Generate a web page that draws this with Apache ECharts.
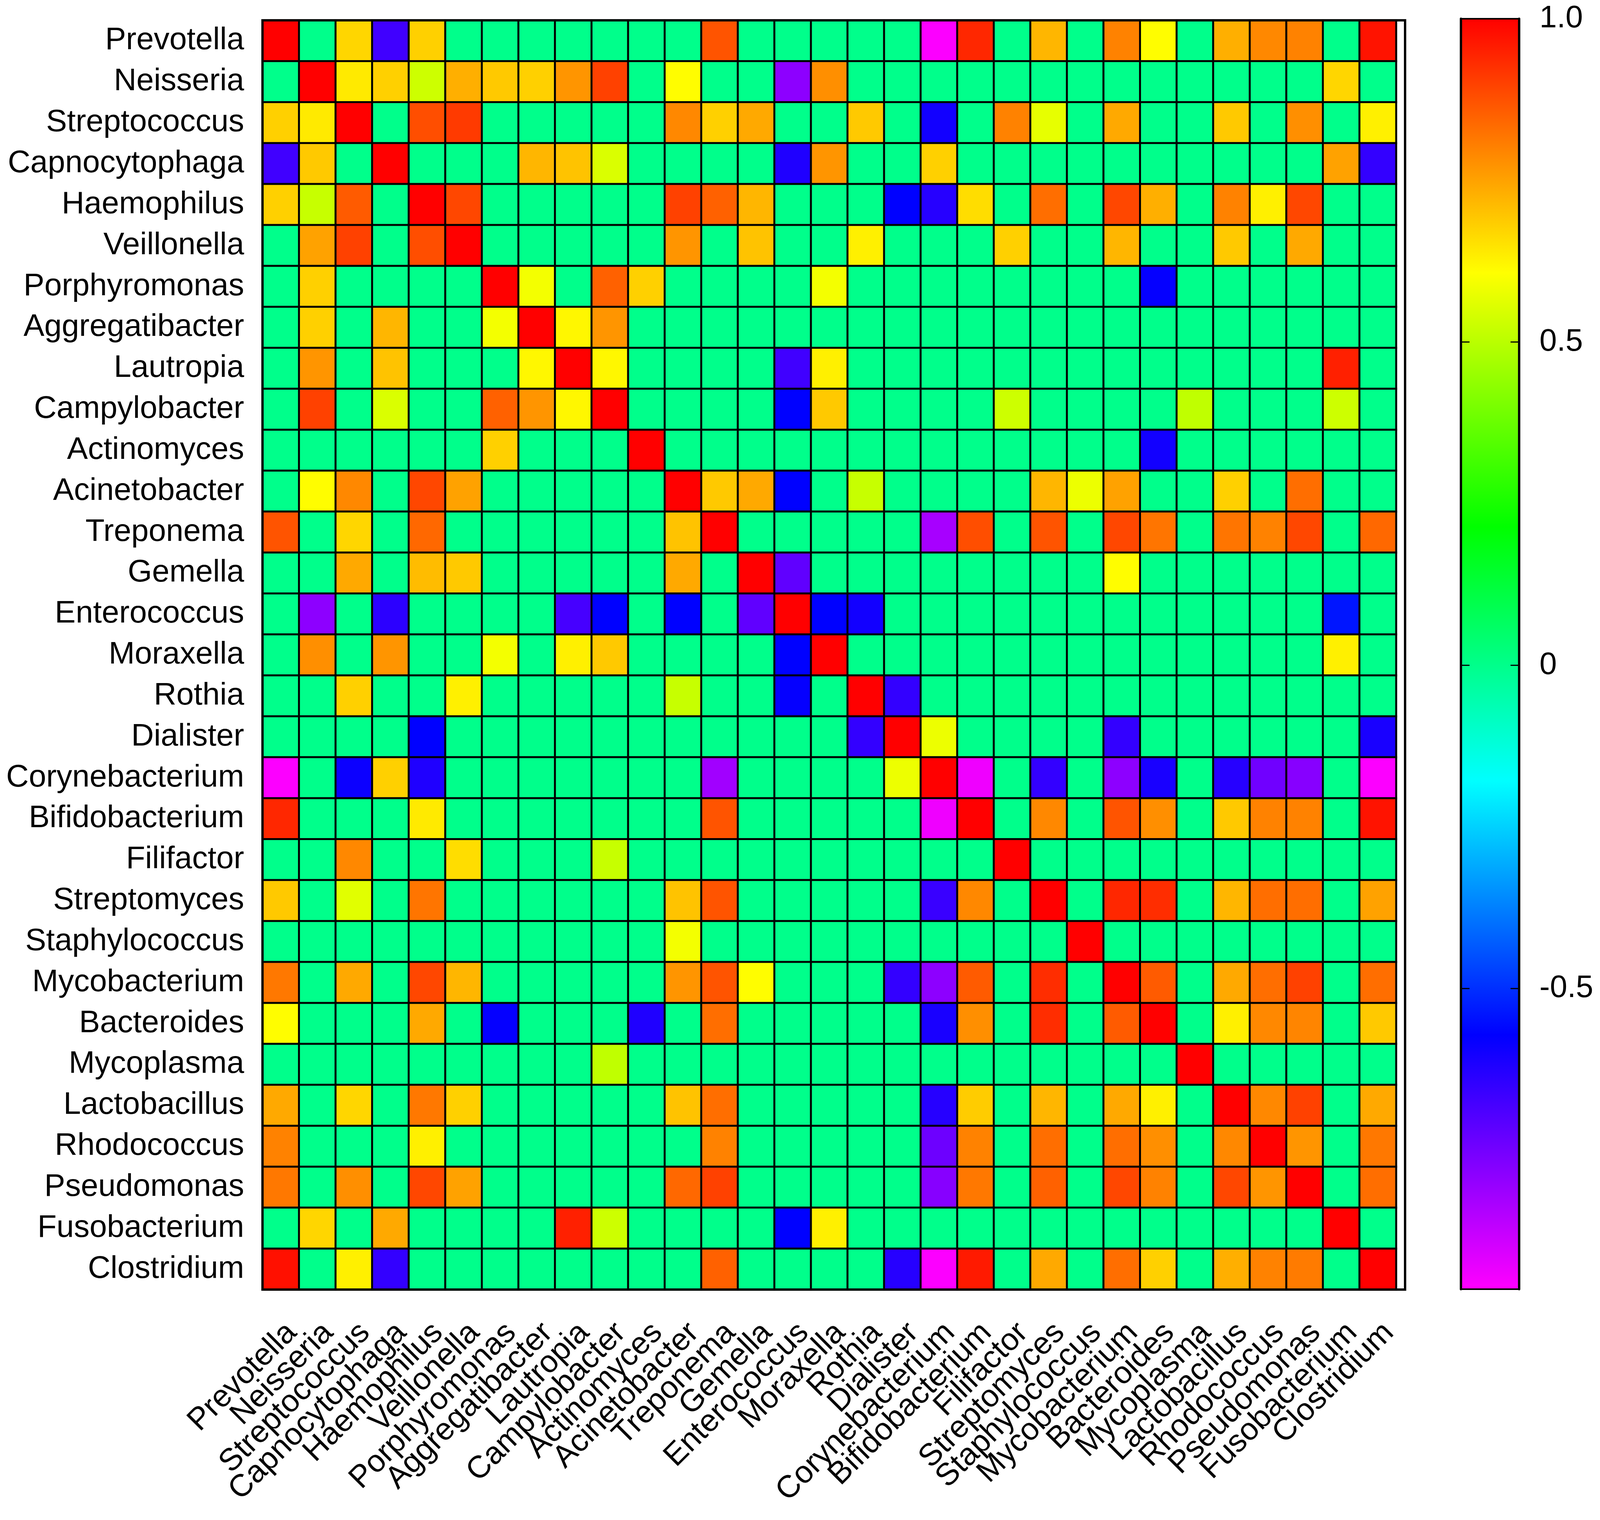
<!DOCTYPE html>
<html>
<head>
<meta charset="utf-8">
<title>Genus correlation heatmap</title>
<script src="https://cdn.jsdelivr.net/npm/echarts@6/dist/echarts.min.js"></script>
<style>
  html, body { margin: 0; padding: 0; background: #fff; overflow: hidden; }
  #chart { width: 100vw; height: 100vh; }
</style>
</head>
<body>
<div id="chart"></div>
<script>
// genera, same order on both axes
var taxa = ['Prevotella', 'Neisseria', 'Streptococcus', 'Capnocytophaga', 'Haemophilus',
  'Veillonella', 'Porphyromonas', 'Aggregatibacter', 'Lautropia', 'Campylobacter',
  'Actinomyces', 'Acinetobacter', 'Treponema', 'Gemella', 'Enterococcus',
  'Moraxella', 'Rothia', 'Dialister', 'Corynebacterium', 'Bifidobacterium',
  'Filifactor', 'Streptomyces', 'Staphylococcus', 'Mycobacterium', 'Bacteroides',
  'Mycoplasma', 'Lactobacillus', 'Rhodococcus', 'Pseudomonas', 'Fusobacterium',
  'Clostridium'];

// correlation rows, one row per genus
var corr = [
  [1, 0, 0.67, -0.67, 0.68,  0, 0, 0, 0, 0,  0, 0, 0.87, 0, 0,  0, 0, 0, -0.96, 0.94,  0, 0.72, 0, 0.80, 0.61,  0, 0.73, 0.79, 0.80, 0,  0.97],
  [0, 1, 0.64, 0.68, 0.53,  0.73, 0.69, 0.68, 0.77, 0.90,  0, 0.61, 0, 0, -0.79,  0.78, 0, 0, 0, 0,  0, 0, 0, 0, 0,  0, 0, 0, 0, 0.67,  0],
  [0.68, 0.64, 1, 0, 0.88,  0.91, 0, 0, 0, 0,  0, 0.79, 0.68, 0.74, 0,  0, 0.69, 0, -0.60, 0,  0.80, 0.57, 0, 0.74, 0,  0, 0.69, 0, 0.78, 0,  0.63],
  [-0.67, 0.69, 0, 1, 0,  0, 0, 0.72, 0.70, 0.55,  0, 0, 0, 0, -0.62,  0.77, 0, 0, 0.68, 0,  0, 0, 0, 0, 0,  0, 0, 0, 0, 0.75,  -0.65],
  [0.68, 0.52, 0.86, 0, 1,  0.89, 0, 0, 0, 0,  0, 0.90, 0.85, 0.72, 0,  0, 0, -0.57, -0.63, 0.66,  0, 0.83, 0, 0.89, 0.73,  0, 0.80, 0.63, 0.89, 0,  0],
  [0, 0.75, 0.90, 0, 0.88,  1, 0, 0, 0, 0,  0, 0.77, 0, 0.70, 0,  0, 0.63, 0, 0, 0,  0.68, 0, 0, 0.72, 0,  0, 0.69, 0, 0.74, 0,  0],
  [0, 0.68, 0, 0, 0,  0, 1, 0.59, 0, 0.85,  0.68, 0, 0, 0, 0,  0.59, 0, 0, 0, 0,  0, 0, 0, 0, -0.58,  0, 0, 0, 0, 0,  0],
  [0, 0.68, 0, 0.72, 0,  0, 0.59, 1, 0.62, 0.77,  0, 0, 0, 0, 0,  0, 0, 0, 0, 0,  0, 0, 0, 0, 0,  0, 0, 0, 0, 0,  0],
  [0, 0.77, 0, 0.70, 0,  0, 0, 0.62, 1, 0.62,  0, 0, 0, 0, -0.67,  0.63, 0, 0, 0, 0,  0, 0, 0, 0, 0,  0, 0, 0, 0, 0.95,  0],
  [0, 0.90, 0, 0.55, 0,  0, 0.85, 0.77, 0.62, 1,  0, 0, 0, 0, -0.57,  0.69, 0, 0, 0, 0,  0.53, 0, 0, 0, 0,  0.51, 0, 0, 0, 0.53,  0],
  [0, 0, 0, 0, 0,  0, 0.68, 0, 0, 0,  1, 0, 0, 0, 0,  0, 0, 0, 0, 0,  0, 0, 0, 0, -0.60,  0, 0, 0, 0, 0,  0],
  [0, 0.61, 0.79, 0, 0.89,  0.75, 0, 0, 0, 0,  0, 1, 0.69, 0.74, -0.57,  0, 0.52, 0, 0, 0,  0, 0.72, 0.58, 0.75, 0,  0, 0.68, 0, 0.83, 0,  0],
  [0.87, 0, 0.67, 0, 0.84,  0, 0, 0, 0, 0,  0, 0.70, 1, 0, 0,  0, 0, 0, -0.83, 0.88,  0, 0.87, 0, 0.89, 0.82,  0, 0.82, 0.80, 0.89, 0,  0.84],
  [0, 0, 0.74, 0, 0.71,  0.69, 0, 0, 0, 0,  0, 0.74, 0, 1, -0.72,  0, 0, 0, 0, 0,  0, 0, 0, 0.61, 0,  0, 0, 0, 0, 0,  0],
  [0, -0.79, 0, -0.64, 0,  0, 0, 0, -0.68, -0.57,  0, -0.57, 0, -0.72, 1,  -0.57, -0.60, 0, 0, 0,  0, 0, 0, 0, 0,  0, 0, 0, 0, -0.54,  0],
  [0, 0.78, 0, 0.77, 0,  0, 0.59, 0, 0.63, 0.69,  0, 0, 0, 0, -0.57,  1, 0, 0, 0, 0,  0, 0, 0, 0, 0,  0, 0, 0, 0, 0.63,  0],
  [0, 0, 0.68, 0, 0,  0.63, 0, 0, 0, 0,  0, 0.52, 0, 0, -0.58,  0, 1, -0.65, 0, 0,  0, 0, 0, 0, 0,  0, 0, 0, 0, 0,  0],
  [0, 0, 0, 0, -0.57,  0, 0, 0, 0, 0,  0, 0, 0, 0, 0,  0, -0.65, 1, 0.58, 0,  0, 0, 0, -0.65, 0,  0, 0, 0, 0, 0,  -0.61],
  [-0.96, 0, -0.59, 0.68, -0.62,  0, 0, 0, 0, 0,  0, 0, -0.82, 0, 0,  0, 0, 0.58, 1, -0.94,  0, -0.65, 0, -0.79, -0.61,  0, -0.63, -0.745, -0.78, 0,  -0.96],
  [0.94, 0, 0, 0, 0.64,  0, 0, 0, 0, 0,  0, 0, 0.87, 0, 0,  0, 0, 0, -0.94, 1,  0, 0.79, 0, 0.87, 0.78,  0, 0.69, 0.80, 0.80, 0,  0.97],
  [0, 0, 0.79, 0, 0,  0.66, 0, 0, 0, 0.52,  0, 0, 0, 0, 0,  0, 0, 0, 0, 0,  1, 0, 0, 0, 0,  0, 0, 0, 0, 0,  0],
  [0.69, 0, 0.56, 0, 0.82,  0, 0, 0, 0, 0,  0, 0.70, 0.87, 0, 0,  0, 0, 0, -0.66, 0.79,  0, 1, 0, 0.94, 0.93,  0, 0.72, 0.83, 0.83, 0,  0.75],
  [0, 0, 0, 0, 0,  0, 0, 0, 0, 0,  0, 0.59, 0, 0, 0,  0, 0, 0, 0, 0,  0, 0, 1, 0, 0,  0, 0, 0, 0, 0,  0],
  [0.815, 0, 0.74, 0, 0.89,  0.72, 0, 0, 0, 0,  0, 0.77, 0.87, 0.61, 0,  0, 0, -0.65, -0.79, 0.86,  0, 0.93, 0, 1, 0.86,  0, 0.74, 0.83, 0.90, 0,  0.83],
  [0.61, 0, 0, 0, 0.74,  0, -0.58, 0, 0, 0,  -0.62, 0, 0.83, 0, 0,  0, 0, 0, -0.61, 0.78,  0, 0.93, 0, 0.86, 1,  0, 0.63, 0.79, 0.795, 0,  0.69],
  [0, 0, 0, 0, 0,  0, 0, 0, 0, 0.51,  0, 0, 0, 0, 0,  0, 0, 0, 0, 0,  0, 0, 0, 0, 0,  1, 0, 0, 0, 0,  0],
  [0.74, 0, 0.67, 0, 0.815,  0.68, 0, 0, 0, 0,  0, 0.70, 0.83, 0, 0,  0, 0, 0, -0.63, 0.685,  0, 0.72, 0, 0.74, 0.63,  0, 1, 0.79, 0.90, 0,  0.74],
  [0.80, 0, 0, 0, 0.63,  0, 0, 0, 0, 0,  0, 0, 0.80, 0, 0,  0, 0, 0, -0.74, 0.80,  0, 0.83, 0, 0.83, 0.78,  0, 0.79, 1, 0.77, 0,  0.815],
  [0.815, 0, 0.78, 0, 0.89,  0.75, 0, 0, 0, 0,  0, 0.84, 0.90, 0, 0,  0, 0, 0, -0.78, 0.815,  0, 0.85, 0, 0.89, 0.80,  0, 0.89, 0.77, 1, 0,  0.83],
  [0, 0.67, 0, 0.74, 0,  0, 0, 0, 0.95, 0.53,  0, 0, 0, 0, -0.57,  0.63, 0, 0, 0, 0,  0, 0, 0, 0, 0,  0, 0, 0, 0, 1,  0],
  [0.975, 0, 0.63, -0.65, 0,  0, 0, 0, 0, 0,  0, 0, 0.85, 0, 0,  0, 0, -0.63, -0.96, 0.96,  0, 0.74, 0, 0.83, 0.68,  0, 0.73, 0.80, 0.81, 0,  1]
];

// colour scale range and the values labelled on the bar
var scaleMin = -0.965;
var scaleMax = 1;
var barTicks = [-0.5, 0, 0.5, 1];
var barMinorTicks = [-0.5, 0, 0.5];
var rainbow = ['#ff00ff', '#0000ff', '#00ffff', '#00ff00', '#ffff00', '#ff0000'];

var cells = [];
for (var r = 0; r < corr.length; r++) {
  for (var c = 0; c < corr[r].length; c++) {
    cells.push([c, r, corr[r][c]]);
  }
}
var barTickData = barMinorTicks.map(function (v) { return [0, v]; });

// layout was measured on a 4550 x 3892 picture, scale it to the real window
var el = document.getElementById('chart');
var W = el.clientWidth || 4550;
var H = el.clientHeight || 3892;
var sx = W / 4550, sy = H / 3892;
function X(v) { return Math.round(v * sx); }
function Y(v) { return Math.round(v * sy); }
var fs = Math.round(86 * Math.min(1, (sx + sy) / 2) * 0.985);

var font = "'Liberation Sans', Arial, Helvetica, sans-serif";
var chart = echarts.init(el, null, { renderer: 'canvas' });

// colour bar: same stops as the visualMap, top = max
var barStops = rainbow.slice().reverse().map(function (col, i, arr) {
  return { offset: i / (arr.length - 1), color: col };
});
function renderBar(params, api) {
  var p0 = api.coord([0, scaleMax]);
  var p1 = api.coord([1, scaleMin]);
  return {
    type: 'rect',
    shape: { x: p0[0], y: p0[1], width: p1[0] - p0[0], height: p1[1] - p0[1] },
    style: { fill: new echarts.graphic.LinearGradient(0, 0, 0, 1, barStops) }
  };
}

// short black stubs on both inner sides of the colour bar
function renderBarTick(params, api) {
  var v = api.value(1);
  var a = api.coord([0, v]);
  var b = api.coord([1, v]);
  var len = X(24);
  var st = { stroke: '#000', lineWidth: 3 };
  return {
    type: 'group',
    children: [
      { type: 'line', shape: { x1: a[0], y1: a[1], x2: a[0] + len, y2: a[1] }, style: st },
      { type: 'line', shape: { x1: b[0] - len, y1: b[1], x2: b[0], y2: b[1] }, style: st }
    ]
  };
}

var option = {
  backgroundColor: '#fff',
  animation: false,
  textStyle: { fontFamily: font },
  grid: [
    { left: X(746), top: Y(52), width: X(3224), height: Y(3250) },
    { left: X(746), top: Y(52), width: X(3249), height: Y(3250), show: true, z: 10,
      borderColor: '#000', borderWidth: 6, backgroundColor: 'transparent' },
    { left: X(4155), top: Y(48), width: X(165), height: Y(3253), show: true, z: 10,
      borderColor: '#000', borderWidth: 4, backgroundColor: 'transparent' }
  ],
  xAxis: [
    {
      type: 'category', gridIndex: 0, data: taxa, position: 'bottom',
      axisLine: { lineStyle: { color: '#000', width: 6 } },
      axisTick: { alignWithLabel: true, length: Y(33), lineStyle: { color: '#000', width: 5 } },
      axisLabel: {
        interval: 0, rotate: 45, margin: Y(70), color: '#000',
        fontSize: fs, fontFamily: font, verticalAlign: 'top', lineHeight: fs
      },
      splitLine: { show: false }
    },
    { type: 'value', gridIndex: 1, show: false },
    { type: 'value', gridIndex: 2, show: false, min: 0, max: 1 }
  ],
  yAxis: [
    {
      type: 'category', gridIndex: 0, data: taxa, inverse: true,
      axisLine: { lineStyle: { color: '#000', width: 6 } },
      axisTick: { alignWithLabel: true, length: X(33), lineStyle: { color: '#000', width: 5 } },
      axisLabel: { interval: 0, margin: X(52), color: '#000', fontSize: fs, fontFamily: font },
      splitLine: { show: false }
    },
    { type: 'value', gridIndex: 1, show: false },
    {
      type: 'value', gridIndex: 2, position: 'right', min: scaleMin, max: scaleMax, z: 10,
      axisLine: { show: true, onZero: false, lineStyle: { color: '#000', width: 6 } },
      axisTick: { show: false },
      axisLabel: {
        customValues: barTicks, margin: X(58), color: '#000', fontSize: fs, fontFamily: font,
        formatter: function (v) { return v === 1 ? '1.0' : String(v); }
      },
      splitLine: { show: false }
    },
    {
      type: 'value', gridIndex: 2, position: 'left', min: scaleMin, max: scaleMax, z: 10,
      axisLine: { show: true, onZero: false, lineStyle: { color: '#000', width: 6 } },
      axisTick: { show: false },
      axisLabel: { show: false },
      splitLine: { show: false }
    }
  ],
  visualMap: {
    type: 'continuous',
    show: false,
    seriesIndex: 0,
    min: scaleMin,
    max: scaleMax,
    inRange: { color: rainbow }
  },
  series: [
    {
      type: 'heatmap',
      xAxisIndex: 0,
      yAxisIndex: 0,
      data: cells,
      itemStyle: { borderColor: '#000', borderWidth: 5 },
      emphasis: { disabled: true },
      progressive: 0
    },
    {
      type: 'custom',
      xAxisIndex: 2,
      yAxisIndex: 2,
      z: 3,
      silent: true,
      data: [[0, scaleMax]],
      renderItem: renderBar
    },
    {
      type: 'custom',
      xAxisIndex: 2,
      yAxisIndex: 2,
      z: 11,
      silent: true,
      data: barTickData,
      renderItem: renderBarTick
    }
  ]
};

chart.setOption(option);
</script>
</body>
</html>
